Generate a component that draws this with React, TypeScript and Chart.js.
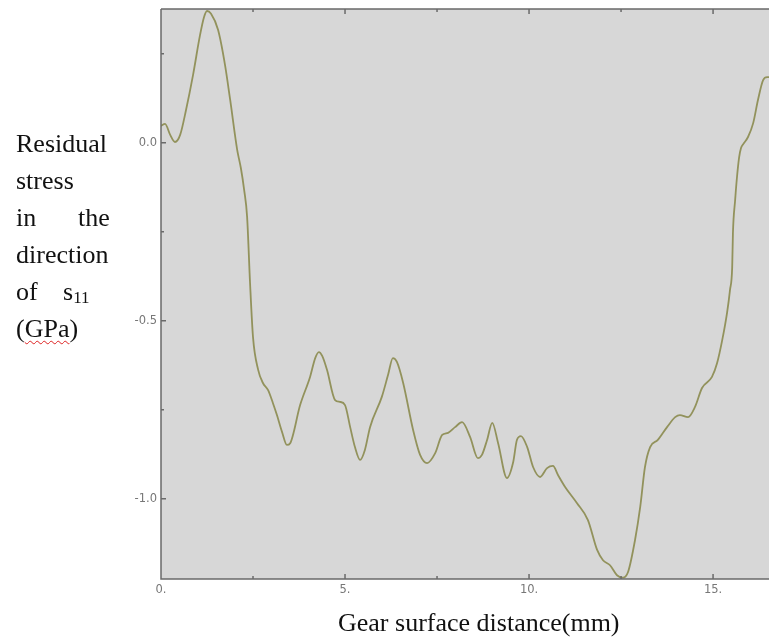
import React, { useEffect, useRef } from "react";
import { Chart, registerables } from "chart.js";

Chart.register(...registerables);

// Gear surface distance (mm)
const distance = [
  0.0, 0.11, 0.25, 0.38, 0.52, 0.68, 0.87, 1.06, 1.17, 1.25, 1.36, 1.55, 1.74, 1.88,
  2.07, 2.17, 2.26, 2.34, 2.42, 2.5, 2.64, 2.77, 2.91, 3.04, 3.15, 3.29, 3.42, 3.51,
  3.78, 4.05, 4.19, 4.29, 4.38, 4.51, 4.73, 4.86, 5.0, 5.14, 5.27, 5.41, 5.54, 5.68,
  6.0, 6.17, 6.3, 6.41, 6.58, 6.85, 7.04, 7.23, 7.45, 7.64, 7.8, 7.99, 8.18, 8.4,
  8.61, 8.72, 8.86, 9.0, 9.16, 9.4, 9.57, 9.67, 9.78, 9.95, 10.11, 10.3, 10.49, 10.65,
  10.79, 10.98, 11.3, 11.6, 11.85, 12.01, 12.2, 12.39, 12.55, 12.69, 12.88, 13.02,
  13.15, 13.29, 13.5, 13.75, 13.97, 14.1, 14.32, 14.51, 14.7, 14.97, 15.11, 15.25,
  15.38, 15.46, 15.52, 15.54, 15.6, 15.65, 15.71, 15.76, 15.82, 15.95, 16.09, 16.22,
  16.36, 16.47, 16.52,
];

// Residual stress in the direction of s11 (GPa)
const stress = [
  0.047, 0.053, 0.022, 0.002, 0.022, 0.092, 0.19, 0.302, 0.353, 0.37, 0.362, 0.317, 0.218, 0.12,
  -0.02, -0.071, -0.133, -0.209, -0.395, -0.546, -0.638, -0.675, -0.695, -0.731, -0.765, -0.813, -0.849, -0.844,
  -0.737, -0.658, -0.605, -0.588, -0.599, -0.638, -0.723, -0.728, -0.737, -0.799, -0.855, -0.891, -0.863, -0.799,
  -0.714, -0.652, -0.605, -0.616, -0.675, -0.807, -0.877, -0.9, -0.872, -0.821, -0.815, -0.799, -0.785, -0.827,
  -0.886, -0.877, -0.835, -0.787, -0.844, -0.942, -0.897, -0.835, -0.824, -0.855, -0.911, -0.939, -0.914, -0.908,
  -0.934, -0.967, -1.012, -1.06, -1.144, -1.173, -1.187, -1.215, -1.222, -1.206, -1.116, -1.024,
  -0.911, -0.855, -0.835, -0.799, -0.771, -0.765, -0.771, -0.742, -0.689, -0.658, -0.619, -0.554,
  -0.478, -0.414, -0.349, -0.254, -0.161, -0.097, -0.04, -0.015, -0.004, 0.016, 0.055, 0.12,
  0.176, 0.184, 0.184,
];

const xTickValues = [0, 5, 10, 15];
const xTickLabels = ["0.", "5.", "10.", "15."];
const xMinorTicks = [2.5, 7.5, 12.5];
const yTickValues = [0, -0.5, -1.0];
const yTickLabels = ["0.0", "-0.5", "-1.0"];
const yMinorTicks = [0.25, -0.25, -0.75];

const xTitle = "Gear surface distance(mm)";

const framePlugin = {
  id: "frame",
  beforeDraw(chart: any) {
    const { ctx, chartArea: a } = chart;
    ctx.save();
    ctx.fillStyle = "#d7d7d7";
    ctx.fillRect(a.left, a.top, a.right - a.left, a.bottom - a.top);
    ctx.restore();
  },
  afterDraw(chart: any) {
    const { ctx, chartArea: a, scales } = chart;
    const x = scales.x;
    const y = scales.y;
    ctx.save();
    ctx.strokeStyle = "#6a6a6a";
    ctx.lineWidth = 1.5;
    ctx.beginPath();
    ctx.moveTo(a.left, a.top);
    ctx.lineTo(a.right, a.top);
    ctx.moveTo(a.left, a.top);
    ctx.lineTo(a.left, a.bottom);
    ctx.lineTo(a.right, a.bottom);
    const xt = (v: number, len: number) => {
      const px = x.getPixelForValue(v);
      ctx.moveTo(px, a.bottom);
      ctx.lineTo(px, a.bottom - len);
      ctx.moveTo(px, a.top);
      ctx.lineTo(px, a.top + len);
    };
    const yt = (v: number, len: number) => {
      const py = y.getPixelForValue(v);
      ctx.moveTo(a.left, py);
      ctx.lineTo(a.left + len, py);
    };
    xTickValues.forEach((v) => xt(v, 5));
    xMinorTicks.forEach((v) => xt(v, 3));
    yTickValues.forEach((v) => yt(v, 5));
    yMinorTicks.forEach((v) => yt(v, 3));
    ctx.stroke();
    ctx.restore();
  },
};

function StressChart() {
  const ref = useRef<HTMLCanvasElement | null>(null);
  useEffect(() => {
    if (!ref.current) return;
    const chart = new Chart(ref.current, {
      type: "line",
      data: {
        datasets: [
          {
            data: distance.map((d, i) => ({ x: d, y: stress[i] })),
            borderColor: "#92925c",
            borderWidth: 1.8,
            pointRadius: 0,
            cubicInterpolationMode: "monotone",
            fill: false,
          },
        ],
      },
      options: {
        responsive: false,
        animation: false,
        devicePixelRatio: 1,
        layout: { padding: { top: 9, left: 0, right: 0, bottom: 0 } },
        plugins: { legend: { display: false }, tooltip: { enabled: false } },
        scales: {
          x: {
            type: "linear",
            min: 0,
            max: 16.52,
            grid: { display: false, drawTicks: false },
            border: { display: false },
            ticks: {
              padding: 4,
              color: "#777",
              font: { family: "DejaVu Sans", size: 11.5 },
              maxRotation: 0,
              callback: (v: any) => {
                const i = xTickValues.indexOf(Number(v));
                return i >= 0 ? xTickLabels[i] : "";
              },
            },
            afterBuildTicks: (s: any) => {
              s.ticks = xTickValues.map((value) => ({ value }));
            },
            afterFit: (s: any) => {
              s.height = 62;
              s.paddingLeft = 0;
              s.paddingRight = 0;
            },
          },
          y: {
            type: "linear",
            min: -1.2256,
            max: 0.3756,
            grid: { display: false, drawTicks: false },
            border: { display: false },
            ticks: {
              padding: 4,
              color: "#777",
              font: { family: "DejaVu Sans", size: 11.5 },
              callback: (v: any) => {
                const i = yTickValues.indexOf(Number(v));
                return i >= 0 ? yTickLabels[i] : "";
              },
            },
            afterBuildTicks: (s: any) => {
              s.ticks = yTickValues.map((value) => ({ value }));
            },
            afterFit: (s: any) => {
              s.width = 161;
              s.paddingTop = 0;
              s.paddingBottom = 0;
            },
          },
        },
      },
      plugins: [framePlugin],
    } as any);
    return () => chart.destroy();
  }, []);
  return <canvas ref={ref} width={769} height={641} style={{ position: "absolute", left: 0, top: 0 }} />;
}

const serif: React.CSSProperties = {
  position: "absolute",
  fontFamily: "'Liberation Serif', 'Times New Roman', serif",
  fontSize: 26,
  lineHeight: "26px",
  color: "#111",
  whiteSpace: "nowrap",
  margin: 0,
};

export default function App() {
  return (
    <div style={{ position: "absolute", left: 0, top: 0, width: 769, height: 641, background: "#fff", overflow: "hidden" }}>
      <StressChart />
      <div style={{ ...serif, left: 16, top: 131 }}>Residual</div>
      <div style={{ ...serif, left: 16, top: 168 }}>stress</div>
      <div style={{ ...serif, left: 16, top: 205 }}>in</div>
      <div style={{ ...serif, left: 78, top: 205 }}>the</div>
      <div style={{ ...serif, left: 16, top: 242 }}>direction</div>
      <div style={{ ...serif, left: 16, top: 279 }}>of</div>
      <div style={{ ...serif, left: 63, top: 279 }}>
        s<span style={{ fontSize: 17, position: "relative", top: 3 }}>11</span>
      </div>
      <div style={{ ...serif, left: 16, top: 316 }}>
        (<span style={{ textDecoration: "underline wavy #d22", textDecorationThickness: "1px", textUnderlineOffset: "3px" }}>GPa</span>)
      </div>
      <div style={{ ...serif, left: 338, top: 610 }}>{xTitle}</div>
    </div>
  );
}
